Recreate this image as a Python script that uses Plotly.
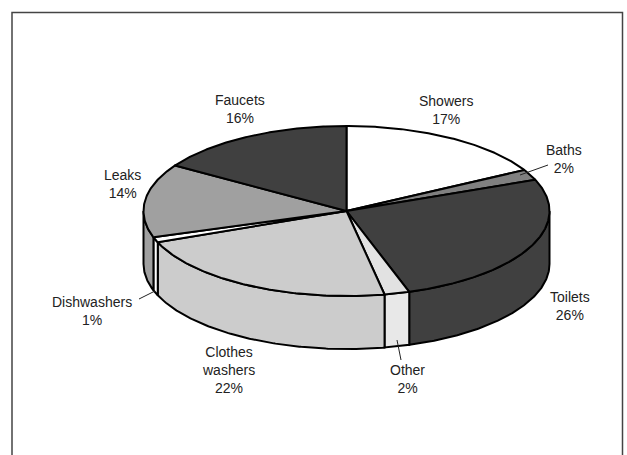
import numpy as np
import plotly.graph_objects as go

categories = ["Showers", "Baths", "Toilets", "Other", "Clothes washers", "Dishwashers", "Leaks", "Faucets"]
shares = [17, 2, 26, 2, 22, 1, 14, 16]
top_colors = ["#ffffff", "#808080", "#404040", "#e2e2e2", "#cccccc", "#ffffff", "#a0a0a0", "#404040"]
side_colors = ["#ffffff", "#808080", "#404040", "#e8e8e8", "#cccccc", "#ffffff", "#a0a0a0", "#404040"]
label_x = [446, 564, 570, 407, 228, 92, 122, 240]
label_y = [110, 159, 306, 379, 370, 310.5, 184, 109]

W, H = 627, 455
CX, CY, RX, RY, DEPTH = 346.5, 211, 203, 85, 53


def arc(a0, a1, dy=0.0):
    t = np.radians(np.linspace(a0, a1, max(int(abs(a1 - a0) * 2), 2)))
    return CX + RX * np.sin(t), CY + dy - RY * np.cos(t)


fig = go.Figure()
edges = np.cumsum([0] + shares) / sum(shares) * 360.0
line = dict(color="black", width=2)

# Side wall: only the front half of the cylinder (90 to 270 degrees) is visible
for i, c in enumerate(categories):
    a0, a1 = max(edges[i], 90), min(edges[i + 1], 270)
    if a1 <= a0:
        continue
    xt, yt = arc(a0, a1)
    xb, yb = arc(a1, a0, DEPTH)
    fig.add_trace(go.Scatter(x=np.r_[xt, xb, xt[0]], y=np.r_[yt, yb, yt[0]], mode="lines",
                             fill="toself", fillcolor=side_colors[i], line=line,
                             hoverinfo="skip", showlegend=False))

# Top face
for i, c in enumerate(categories):
    xt, yt = arc(edges[i], edges[i + 1])
    fig.add_trace(go.Scatter(x=np.r_[CX, xt, CX], y=np.r_[CY, yt, CY], mode="lines",
                             fill="toself", fillcolor=top_colors[i], line=line,
                             name=c, hoverinfo="skip", showlegend=False))

for c, v, x, y in zip(categories, shares, label_x, label_y):
    fig.add_annotation(x=x, y=y, text=f"{c.replace(' ', '<br>')}<br>{v}%", showarrow=False,
                       xanchor="center", yanchor="middle", align="center",
                       font=dict(family="Liberation Sans, Arial, sans-serif", size=14, color="#222222"))

# Leader lines and the open-bottomed frame
shapes = [
    dict(type="line", x0=520, y0=175, x1=548, y1=165),
    dict(type="line", x0=139, y0=299, x1=155, y1=291),
    dict(type="line", x0=397, y0=340, x1=401, y1=360),
]
for s in shapes:
    fig.add_shape(**s, xref="x", yref="y", line=dict(color="#222222", width=1))
fig.add_shape(type="path", path=f"M 12 {H} L 12 12.5 L 622.5 12.5 L 622.5 {H}", xref="x", yref="y",
              line=dict(color="#444444", width=1.5))

fig.update_layout(width=W, height=H, margin=dict(l=0, r=0, t=0, b=0),
                  paper_bgcolor="white", plot_bgcolor="white", showlegend=False,
                  xaxis=dict(range=[0, W], visible=False, fixedrange=True),
                  yaxis=dict(range=[H, 0], visible=False, fixedrange=True))
fig.write_html("out.html", config={"displayModeBar": False},
               post_script="document.body.style.margin='0';window.dispatchEvent(new Event('resize'));")
